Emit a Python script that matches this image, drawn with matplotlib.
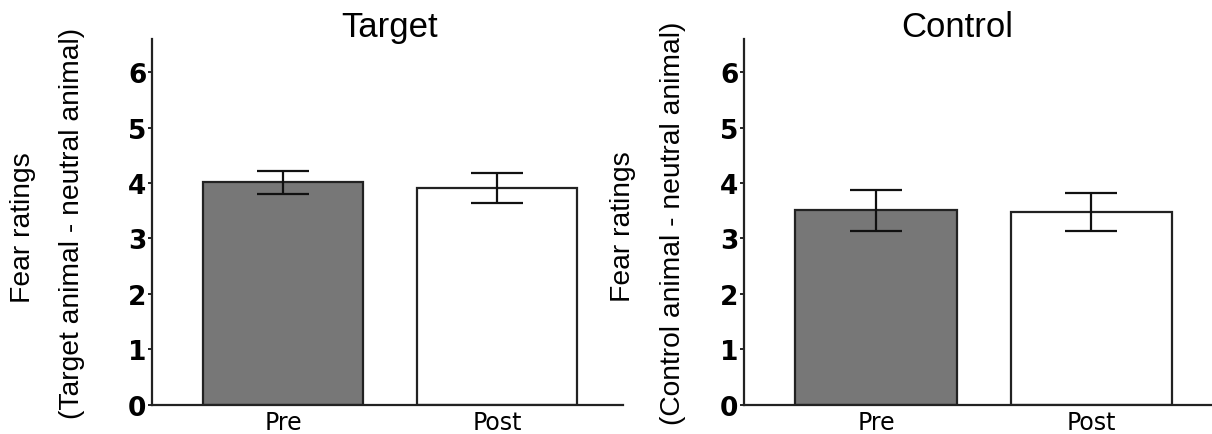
import numpy as np
import matplotlib
matplotlib.use("Agg")
import matplotlib.pyplot as plt

conditions = ["Pre", "Post"]
target_means = [4.01, 3.91]
target_err_lo = [3.80, 3.64]
target_err_hi = [4.21, 4.18]
control_means = [3.51, 3.47]
control_err_lo = [3.14, 3.13]
control_err_hi = [3.88, 3.82]
bar_colors = ["#777777", "white"]
yticks = [0, 1, 2, 3, 4, 5, 6]

fig = plt.figure(figsize=(12.12, 4.35), dpi=100)
ax1 = fig.add_axes([0.1254, 0.0674, 0.3886, 0.8407])
ax2 = fig.add_axes([0.6139, 0.0674, 0.3861, 0.8407])


def draw_panel(ax, means, lo, hi, xmax):
    x = np.arange(len(conditions))
    ax.bar(x, means, width=0.75, color=bar_colors, edgecolor="#222222", linewidth=1.6, zorder=2)
    means = np.array(means)
    yerr = [means - np.array(lo), np.array(hi) - means]
    ax.errorbar(x, means, yerr=yerr, fmt="none", ecolor="#111111", elinewidth=1.6,
                capsize=18.5, capthick=1.6, zorder=3)
    ax.set_xlim(-0.614, xmax)
    ax.set_ylim(0, 6.6)
    ax.set_yticks(yticks)
    ax.set_yticklabels([str(t) for t in yticks], fontfamily="DejaVu Sans", fontweight="bold", fontsize=19)
    ax.set_xticks(x)
    ax.set_xticklabels(conditions, fontfamily="DejaVu Sans", fontsize=17)
    ax.tick_params(axis="y", length=3, width=1.2, pad=1)
    ax.tick_params(axis="x", length=0, pad=4)
    for s in ["top", "right"]:
        ax.spines[s].set_visible(False)
    for s in ["left", "bottom"]:
        ax.spines[s].set_linewidth(1.6)
        ax.spines[s].set_color("#222222")


draw_panel(ax1, target_means, target_err_lo, target_err_hi, 1.59)
draw_panel(ax2, control_means, control_err_lo, control_err_hi, 1.56)

W, H = 1212, 435
fig.text(390 / W, 1 - 37 / H, "Target", fontfamily="Liberation Sans", fontsize=25,
         ha="center", va="baseline")
fig.text(957 / W, 1 - 37 / H, "Control", fontfamily="Liberation Sans", fontsize=25,
         ha="center", va="baseline")

fig.text(23 / W, 1 - 228 / H, "Fear ratings", fontfamily="Liberation Sans", fontsize=20.3,
         rotation=90, ha="center", va="center")
fig.text(72 / W, 1 - 223 / H, "(Target animal - neutral animal)", fontfamily="Liberation Sans",
         fontsize=20.3, rotation=90, ha="center", va="center")
fig.text(623 / W, 1 - 227 / H, "Fear ratings", fontfamily="Liberation Sans", fontsize=20.3,
         rotation=90, ha="center", va="center")
fig.text(673 / W, 1 - 223 / H, "(Control animal - neutral animal)", fontfamily="Liberation Sans",
         fontsize=20.3, rotation=90, ha="center", va="center")

fig.savefig("out.png", dpi=100)
